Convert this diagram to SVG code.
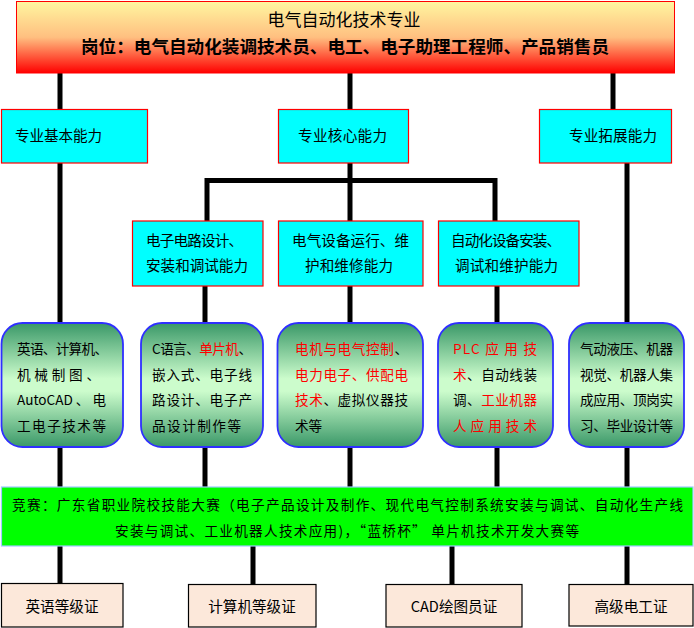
<svg xmlns="http://www.w3.org/2000/svg" width="694" height="628" viewBox="0 0 694 628">
<defs>
<linearGradient id="gTop" x1="0" y1="0" x2="0" y2="1">
<stop offset="0" stop-color="#fff6a0"/>
<stop offset="0.5" stop-color="#ffbf80"/>
<stop offset="1" stop-color="#ff0000"/>
</linearGradient>
<linearGradient id="gRound" x1="0" y1="0" x2="0" y2="1">
<stop offset="0" stop-color="#3a9868"/>
<stop offset="0.45" stop-color="#ccfccc"/>
<stop offset="0.55" stop-color="#ccfccc"/>
<stop offset="1" stop-color="#3a9868"/>
</linearGradient>
<style>
text{font-family:"Noto Sans CJK SC","Noto Sans",sans-serif;fill:#000;}
.cy{fill:#00ffff;stroke:#ff0000;stroke-width:1.2;}
.rd{fill:url(#gRound);stroke:#2f2fff;stroke-width:1.8;}
.ct{fill:#fce8da;stroke:#000;stroke-width:1.2;}
.ln{stroke:#000;stroke-width:5;fill:none;}
.t15{font-size:14.6px;}
.t14{font-size:13.6px;}
.r{fill:#ff0000;}
</style>
</defs>
<g id="connectors">
<line class="ln" x1="60" y1="73" x2="60" y2="584"/>
<line class="ln" x1="350" y1="73" x2="350" y2="110"/>
<line class="ln" x1="350" y1="163" x2="350" y2="222"/>
<path class="ln" d="M207,222 V180.5 H495 V222"/>
<line class="ln" x1="613" y1="73" x2="613" y2="110"/>
<line class="ln" x1="627" y1="163" x2="627" y2="584"/>
<line class="ln" x1="205" y1="286" x2="205" y2="323"/>
<line class="ln" x1="350" y1="286" x2="350" y2="323"/>
<line class="ln" x1="497" y1="286" x2="497" y2="323"/>
<line class="ln" x1="205" y1="447" x2="205" y2="488"/>
<line class="ln" x1="350" y1="447" x2="350" y2="488"/>
<line class="ln" x1="497" y1="447" x2="497" y2="488"/>
<line class="ln" x1="253" y1="546" x2="253" y2="584"/>
<line class="ln" x1="452" y1="546" x2="452" y2="584"/>
</g>
<g id="top">
<rect x="16.5" y="1.5" width="658" height="71.5" fill="url(#gTop)" stroke="#ff0000" stroke-width="1"/>
<text x="344" y="26" font-size="17" text-anchor="middle">电气自动化技术专业</text>
<text x="81" y="53" font-size="17.4" font-weight="bold" textLength="528" lengthAdjust="spacingAndGlyphs">岗位：电气自动化装调技术员、电工、电子助理工程师、产品销售员</text>
</g>
<g id="basic">
<rect class="cy" x="1.5" y="109.5" width="146" height="53.5"/>
<text class="t15" x="15" y="141" textLength="87">专业基本能力</text>
</g>
<g id="core">
<rect class="cy" x="278.5" y="109.5" width="130" height="53.5"/>
<text class="t15" x="298" y="141" textLength="89">专业核心能力</text>
</g>
<g id="ext">
<rect class="cy" x="539.5" y="109.5" width="132" height="53.5"/>
<text class="t15" x="569" y="141" textLength="88">专业拓展能力</text>
</g>
<g id="core1">
<rect class="cy" x="132.5" y="221" width="130.5" height="65"/>
<text class="t15" x="146" y="246" textLength="97">电子电路设计、</text>
<text class="t15" x="146" y="271" textLength="102">安装和调试能力</text>
</g>
<g id="core2">
<rect class="cy" x="278.5" y="221" width="144.5" height="65"/>
<text class="t15" x="292" y="246" textLength="117">电气设备运行、维</text>
<text class="t15" x="305" y="271" textLength="88">护和维修能力</text>
</g>
<g id="core3">
<rect class="cy" x="438.5" y="221" width="140.5" height="65"/>
<text class="t15" x="451" y="246" textLength="110">自动化设备安装、</text>
<text class="t15" x="455" y="271" textLength="103">调试和维护能力</text>
</g>
<g id="r1">
<rect class="rd" x="1.5" y="323" width="121.5" height="124" rx="21" ry="21"/>
<text class="t14" x="17" y="354" textLength="91">英语、计算机、</text>
<text class="t14" x="17" y="380" textLength="83">机械制图、</text>
<text class="t14" x="17" y="405" textLength="89">AutoCAD 、 电</text>
<text class="t14" x="17" y="431" textLength="89">工电子技术等</text>
</g>
<g id="r2">
<rect class="rd" x="141" y="323" width="122" height="124" rx="21" ry="21"/>
<text class="t14" x="152" y="354" textLength="100">C语言、<tspan class="r">单片机</tspan>、</text>
<text class="t14" x="152" y="380" textLength="100">嵌入式、电子线</text>
<text class="t14" x="152" y="405" textLength="100">路设计、电子产</text>
<text class="t14" x="152" y="431" textLength="89">品设计制作等</text>
</g>
<g id="r3">
<rect class="rd" x="277.5" y="323" width="145.5" height="124" rx="21" ry="21"/>
<text class="t14" x="295" y="354" textLength="113"><tspan class="r">电机与电气控制</tspan>、</text>
<text class="t14 r" x="295" y="380" textLength="113">电力电子、供配电</text>
<text class="t14" x="295" y="405" textLength="113"><tspan class="r">技术</tspan>、虚拟仪器技</text>
<text class="t14" x="295" y="431">术等</text>
</g>
<g id="r4">
<rect class="rd" x="438" y="323" width="115" height="124" rx="21" ry="21"/>
<text class="t14 r" x="453" y="354" textLength="84">PLC 应 用 技</text>
<text class="t14" x="453" y="380" textLength="84"><tspan class="r">术</tspan>、自动线装</text>
<text class="t14" x="453" y="405" textLength="84">调、<tspan class="r">工业机器</tspan></text>
<text class="t14 r" x="453" y="431" textLength="84">人应用技术</text>
</g>
<g id="r5">
<rect class="rd" x="569" y="323" width="115" height="124" rx="21" ry="21"/>
<text class="t14" x="580" y="354" textLength="93">气动液压、机器</text>
<text class="t14" x="580" y="380" textLength="93">视觉、机器人集</text>
<text class="t14" x="580" y="405" textLength="93">成应用、顶岗实</text>
<text class="t14" x="580" y="431" textLength="93">习、毕业设计等</text>
</g>
<g id="contest">
<rect x="1.5" y="487" width="691.5" height="59" fill="#00ff00" stroke="#a0c8ff" stroke-width="1.2"/>
<text class="t14" x="12" y="510" textLength="671">竞赛：广东省职业院校技能大赛（电子产品设计及制作、现代电气控制系统安装与调试、自动化生产线</text>
<text class="t14" x="115" y="536" textLength="464">安装与调试、工业机器人技术应用)，“蓝桥杯” 单片机技术开发大赛等</text>
</g>
<g id="cert1">
<rect class="ct" x="1.5" y="583.5" width="121.5" height="43.5"/>
<text class="t15" x="62" y="612" text-anchor="middle">英语等级证</text>
</g>
<g id="cert2">
<rect class="ct" x="188.5" y="584.5" width="127.5" height="42.5"/>
<text class="t15" x="252" y="612" text-anchor="middle">计算机等级证</text>
</g>
<g id="cert3">
<rect class="ct" x="386" y="584.5" width="136" height="42.5"/>
<text class="t15" x="454" y="612" text-anchor="middle">CAD绘图员证</text>
</g>
<g id="cert4">
<rect class="ct" x="569" y="584.5" width="124" height="41.5"/>
<text class="t15" x="631" y="612" text-anchor="middle">高级电工证</text>
</g>
</svg>
